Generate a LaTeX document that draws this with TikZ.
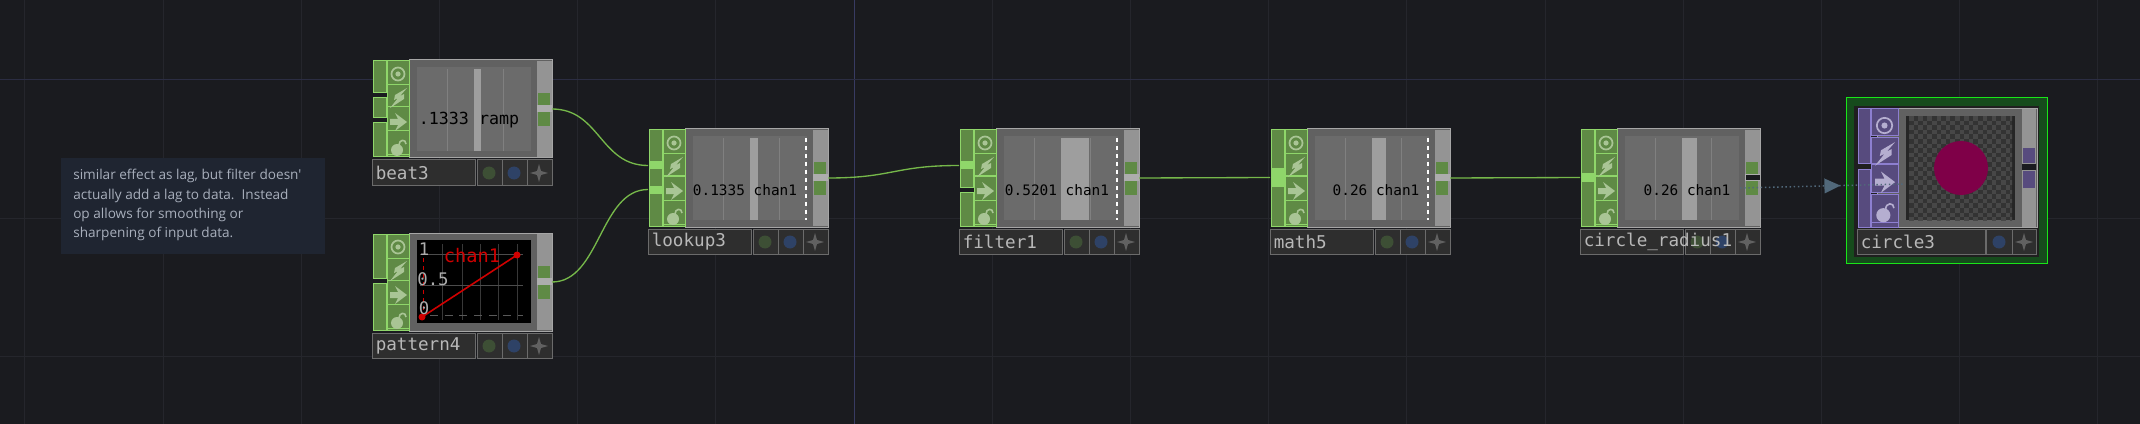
\documentclass[tikz,border=0pt]{standalone}
\usepackage{fontspec}
\newfontfamily\opfont{DejaVu Sans Mono}
\newfontfamily\notefont{Open Sans}
\usetikzlibrary{calc,decorations.markings}
\definecolor{bgdark}{HTML}{1A1B1F}
\definecolor{gridline}{HTML}{25262C}
\definecolor{axisv}{HTML}{383B62}
\definecolor{axish}{HTML}{2B2D42}
\definecolor{wiregreen}{HTML}{76B84A}
\definecolor{wireblue}{HTML}{51687A}
\definecolor{notefill}{HTML}{1F2531}
\definecolor{notetext}{HTML}{A8AFBC}
\definecolor{dotgreen}{HTML}{3D4F35}
\definecolor{dotblue}{HTML}{2E4266}
\definecolor{circleplum}{HTML}{7F0048}
\definecolor{selfill}{HTML}{164B1C}
\definecolor{selline}{HTML}{19E619}
\definecolor{chartred}{HTML}{D00000}
\colorlet{opfill}{black}\colorlet{opline}{black}\colorlet{opicon}{black}
\tikzset{opframe/.style = {draw=black!35!white, fill=black!62!white, line width=.75pt, inner sep=0, minimum width=107.25pt, minimum height=73.5pt}}
\tikzset{blockfill/.style = {fill=opfill, draw=opline, line width=.75pt}}
\tikzset{litfill/.style = {fill=opline, draw=opline, line width=.75pt}}
\tikzset{labelbox/.style = {fill=black!82!white, draw=black!58!white, line width=.75pt}}
\tikzset{labeltext/.style = {anchor=west, inner sep=0, text=black!28!white, font=\opfont\fontsize{13.2}{13.2}\selectfont}}
\tikzset{valtext/.style = {inner sep=0, text=black, font=\opfont\fontsize{10.8}{10.8}\selectfont}}
\tikzset{tick/.style = {inner sep=0, text=black!32!white, font=\opfont\fontsize{13}{13}\selectfont}}
\tikzset{wire/.style = {wiregreen, line width=1pt}}
\tikzset{dotwire/.style = {wireblue, line width=1.1pt, dotted, postaction={decorate}, decoration={markings, mark=at position .56 with {\fill[wireblue] (-8,-7.5) -- (8,0) -- (-8,7.5) -- cycle;}}}}

% the four pale icons of one operator column, centred on x = #1
\newcommand{\opicons}[1]{%
  \begin{scope}[shift={(#1,14)}]
    \draw[opicon, line width=1.3pt] (0,0) circle (6.5);
    \fill[opicon] (0,0) circle (2.6);
  \end{scope}
  \fill[opicon, shift={(#1,38)}] (9,-10) -- (-3,-3) -- (-4,2) -- (0,0) -- (-8,10) -- (6,1) -- (6,-4) -- (2,-2) -- cycle;
  \fill[opicon, shift={(#1,62)}] (-8,-3) -- (0,-3) -- (-3,-9) -- (9,0) -- (-3,9) -- (0,3) -- (-8,3) -- cycle;
  \begin{scope}[shift={(#1,87)}]
    \fill[opicon] (-1,3) circle (6);
    \draw[opicon, line width=1.2pt] (1,-2) .. controls (1,-8) and (8,-8) .. (8,-3);
  \end{scope}
}
% small star of the label row
\newcommand{\opstar}[2]{\fill[black!62!white] (#1,#2-9) -- (#1+2,#2-2) -- (#1+9,#2) -- (#1+2,#2+2) -- (#1,#2+9) -- (#1-2,#2+2) -- (#1-9,#2) -- (#1-2,#2-2) -- cycle;}

% name, x, y, input blocks, lit input blocks
\newcommand{\chopshell}[5]{%
  \begin{scope}[shift={(#2,#3)}]
    \node[opframe] (#1) at (108.5,49) {};
    \foreach \ya/\yb in {#4} \draw[blockfill] (1,\ya) rectangle (14,\yb);
    \foreach \ya/\yb [count=\i] in {#5} {
      \draw[litfill] (1,\ya) rectangle (14,\yb);
      \coordinate (#1in\i) at (0,{(\ya+\yb)/2});
    }
    \foreach \ya/\yb in {1/25,25/47,47/71,71/95,95/97} \draw[blockfill] (15,\ya) rectangle (37,\yb);
    \opicons{26}
    \fill[black!42!white] (165,1) rectangle (180,97);
    \fill[black!32!white] (165,45) rectangle (180,52);
    \fill[opfill] (166,33) rectangle (178,45);
    \fill[opfill] (166,52) rectangle (178,66);
    \coordinate (#1out) at (180,49);
    \draw[labelbox] (0,100) rectangle (103.5,125);
    \draw[labelbox] (105,100) rectangle (180,125);
    \draw[black!58!white, line width=.75pt] (130,100) -- (130,125) (155,100) -- (155,125);
    \fill[dotgreen] (117,113) circle (6.5);
    \fill[dotblue] (142,113) circle (6.5);
    \opstar{167}{113}
    \node[labeltext] at (3.5,112.5) {\detokenize{#1}};
  \end{scope}
}
% x, y, bar right edge, value text, text centre, dashed line style
\newcommand{\chopview}[6]{%
  \begin{scope}[shift={(#1,#2)}]
    \fill[black!58!white] (45,7) rectangle (159,91);
    \foreach \xa in {75,131} \draw[black!50!white, line width=.6pt] (\xa,9) -- (\xa,91);
    \fill[black!38!white] (102,9) rectangle (#3,91);
    \draw[white, line width=1.5pt, dashed, #6] (158,9) -- (158,91);
    \node[valtext] at (#5,61) {#4};
  \end{scope}
}

\begin{document}
\begin{tikzpicture}[x=.75pt, y=-.75pt]
  \useasboundingbox (0,0) rectangle (2140,424);
  \fill[bgdark] (0,0) rectangle (2140,424);
  % grid
  \foreach \k in {-6,...,9} \draw[gridline, line width=.75pt] ({854+138.2*\k},0) -- ({854+138.2*\k},424);
  \foreach \yy in {218,356} \draw[gridline, line width=.75pt] (0,\yy) -- (2140,\yy);
  \draw[axisv, line width=.75pt] (854,0) -- (854,424);
  \draw[axish, line width=.75pt] (0,80) -- (2140,80);

  % note
  \node[fill=notefill, inner sep=0, minimum width=198pt, minimum height=72pt, anchor=north west] (note) at (61,158) {};
  \node[anchor=north west, inner sep=0, align=left, text=notetext, font=\notefont\fontsize{10.2}{14.5}\selectfont] (notetext) at (73,169) {similar effect as lag, but filter doesn'\\actually add a lag to data.\ \ Instead\\op allows for smoothing or\\sharpening of input data.};

  \definecolor{opfill}{HTML}{5F8A45}
  \definecolor{opline}{HTML}{8FD66A}
  \definecolor{opicon}{HTML}{A9C595}

  \chopshell{beat3}{372}{60}{1/33,38/58,63/97}{}
  \chopview{372}{60}{109}{}{97}{draw=none}
  \node[inner sep=0, font=\opfont\fontsize{12.5}{12.5}\selectfont] (beatval) at (469,120) {.1333 ramp};

  \chopshell{pattern4}{372}{233}{1/45,50/97}{}
  \fill[black] (417,240) rectangle (531,323);
  \foreach \xa in {442,462,480,498,517} \draw[black!78!white, line width=.75pt] (\xa,244) -- (\xa,320);
  \foreach \yy in {254,285} \draw[black!70!white, line width=.75pt] (420,\yy) -- (523,\yy);
  \draw[black!65!white, line width=.75pt, dash pattern=on 6pt off 5pt] (430,315) -- (523,315);
  \draw[chartred, line width=.6pt, dashed] (423,258) -- (423,312);
  \draw[chartred, line width=1.2pt] (422,317) -- (517,255);
  \fill[chartred] (422,317) circle (3.5);
  \fill[chartred] (517,255) circle (3.5);
  \node[tick] (tick1) at (424,249) {1};
  \node[tick] (tick05) at (433,279) {0.5};
  \node[tick] (tick0) at (424,308) {0};
  \node[tick, text=chartred, font=\opfont\fontsize{14}{14}\selectfont] (chanlabel) at (472,256) {chan1};

  \chopshell{lookup3}{648}{129}{1/33,40/57,64/97}{33/40,57/64}
  \chopview{648}{129}{110}{0.1335 chan1}{97}{}

  \chopshell{filter1}{959}{129}{1/33,40/58,63/97}{33/40}
  \chopview{959}{129}{130}{0.5201 chan1}{98}{}

  \chopshell{math5}{1270}{129}{1/40,57/97}{40/57}
  \chopview{1270}{129}{116}{0.26 chan1}{106}{line width=.9pt}

  \chopshell{circle_radius1}{1580}{129}{1/45,52/97}{45/52}
  \chopview{1580}{129}{117}{0.26 chan1}{107}{draw=none}
  \fill[bgdark] (1746,175) rectangle (1760,180);

  % selected top
  \definecolor{opfill}{HTML}{574B7E}
  \definecolor{opline}{HTML}{8D7FD0}
  \definecolor{opicon}{HTML}{B5AED0}
  \draw[fill=selfill, draw=selline, line width=.75pt] (1846,98) rectangle (2047,263);
  \fill[black!88!white] (1854,106) rectangle (2039,257);
  \begin{scope}[shift={(1857,109)}]
    \node[opframe, minimum width=120pt, minimum height=88.5pt] (circle3) at (100,59) {};
    \foreach \ya/\yb in {0/55,61/118} \draw[blockfill] (1,\ya) rectangle (13,\yb);
    \foreach \ya/\yb in {0/27,29/55,56/83,85/113,113/118} \draw[blockfill] (14,\ya) rectangle (41,\yb);
    \begin{scope}[scale=1.18]
      \opicons{23.3}
    \end{scope}
    \fill[black!42!white] (165,0) rectangle (179,118);
    \fill[bgdark] (165,55) rectangle (179,61);
    \fill[opfill] (166,39) rectangle (178,54);
    \fill[opfill] (166,62) rectangle (178,79);
    \fill[black!85!white] (49,7) rectangle (158,111);
    \begin{scope}
      \clip (52,7) rectangle (155,111);
      \fill[black!80!white] (52,7) rectangle (155,111);
      \foreach \i in {0,...,22} \foreach \j in {0,...,23} {
        \pgfmathparse{int(mod(\i+\j,2))}
        \ifnum\pgfmathresult=0 \fill[black!72!white] ({52+4.6*\i},{7+4.6*\j}) rectangle +(4.6,4.6); \fi
      }
    \end{scope}
    \fill[circleplum] (104,59) circle (27);
    \draw[labelbox] (0,120) rectangle (128,145);
    \draw[labelbox] (129,120) rectangle (179,145);
    \draw[black!58!white, line width=.75pt] (155,120) -- (155,145);
    \fill[dotblue] (142,133) circle (6.5);
    \opstar{167}{133}
    \node[labeltext] at (3.5,132.5) {circle3};
    \coordinate (circle3in) at (48,75);
  \end{scope}

  % connectors
  \coordinate (radiusout) at (1740,188);
  \draw[wire] (beat3out) .. controls +(48,0) and +(-48,0) .. (lookup3in1);
  \draw[wire] (pattern4out) .. controls +(48,0) and +(-48,0) .. (lookup3in2);
  \draw[wire] (lookup3out) .. controls +(65,0) and +(-65,0) .. (filter1in1);
  \draw[wire] (filter1out) -- (math5in1);
  \draw[wire] (math5out) -- (circle_radius1in1);
  \draw[dotwire] (radiusout) -- (circle3in);
\end{tikzpicture}
\end{document}
